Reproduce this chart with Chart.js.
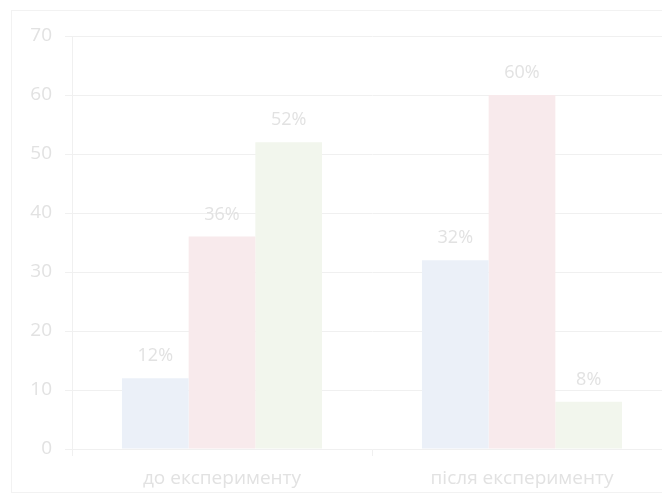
<!DOCTYPE html>
<html>
<head>
<meta charset="utf-8">
<script src="https://cdn.jsdelivr.net/npm/chart.js@4.4.0/dist/chart.umd.min.js"></script>
<style>
body{margin:0;overflow:hidden;background:#fff;width:662px;height:500px;position:relative}
#frame{position:absolute;left:11px;top:10px;width:700px;height:481px;border:1px solid #f2f2f2}
#wrap{position:absolute;left:0;top:0;width:700px;height:500px}
</style>
</head>
<body>
<div id="frame"></div>
<div id="wrap"><canvas id="myChart" width="700" height="500"></canvas></div>
<script>
// categories and values (percent)
const categories=['до експерименту','після експерименту']
const seriesBlue=[12,32]
const seriesRed=[36,60]
const seriesGreen=[52,8]
const yTicks=[0,10,20,30,40,50,60,70]

const txtColor='#e2e2e2'
const gridColor='#f0f0f0'

// draws "NN%" over each bar
const pctLabels={
  id:'pctLabels',
  afterDatasetsDraw(chart){
    const ctx=chart.ctx
    ctx.save()
    ctx.font='18px "Open Sans"'
    ctx.fillStyle=txtColor
    ctx.textAlign='center'
    ctx.textBaseline='middle'
    chart.data.datasets.forEach((ds,i)=>{
      chart.getDatasetMeta(i).data.forEach((bar,j)=>{
        ctx.fillText(ds.data[j]+'%',bar.x,bar.y-22)
      })
    })
    ctx.restore()
  }
}

new Chart(document.getElementById('myChart'),{
  type:'bar',
  data:{
    labels:categories,
    datasets:[
      {data:seriesBlue,backgroundColor:'#ebf0f8'},
      {data:seriesRed,backgroundColor:'#f8eaec'},
      {data:seriesGreen,backgroundColor:'#f2f6ed'}
    ]
  },
  options:{
    responsive:false,
    animation:false,
    layout:{padding:{top:36,right:28,left:0,bottom:0}},
    plugins:{legend:{display:false},tooltip:{enabled:false}},
    datasets:{bar:{categoryPercentage:0.667,barPercentage:1}},
    scales:{
      x:{
        grid:{offset:true,drawOnChartArea:false,color:gridColor,tickLength:7},
        border:{color:gridColor},
        ticks:{color:txtColor,font:{family:'Open Sans',size:19},padding:11},
        afterFit(s){s.height=51}
      },
      y:{
        min:0,max:70,
        afterBuildTicks(s){s.ticks=yTicks.map(v=>({value:v}))},
        grid:{color:gridColor,tickLength:7},
        border:{color:gridColor},
        ticks:{color:txtColor,font:{family:'Open Sans',size:19},padding:13},
        afterFit(s){s.width=72}
      }
    }
  },
  plugins:[pctLabels]
})
</script>
</body>
</html>
